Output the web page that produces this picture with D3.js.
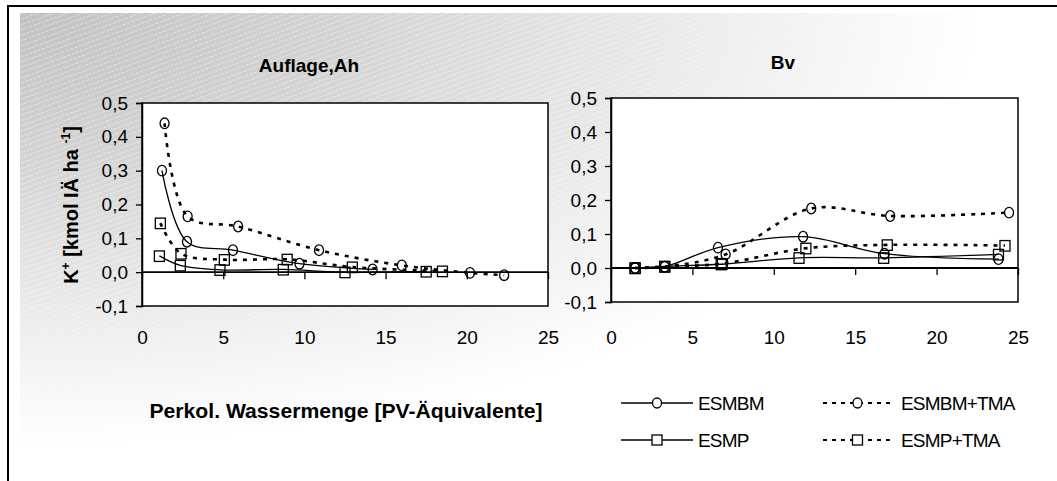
<!DOCTYPE html>
<html><head><meta charset="utf-8">
<script src="https://cdn.jsdelivr.net/npm/d3@7"></script>
<style>
html,body{margin:0;padding:0;background:#fff;}
svg{display:block;font-family:"Liberation Sans",Arial,sans-serif;}
</style></head>
<body>
<svg id="chart" width="1057" height="481"></svg>
<script>
// ---------- data ----------
const xTicks = [0, 5, 10, 15, 20, 25];
const yTicks = [-0.1, 0, 0.1, 0.2, 0.3, 0.4, 0.5];
const panelTitles = ["Auflage,Ah", "Bv"];
const seriesNames = ["ESMBM", "ESMBM+TMA", "ESMP", "ESMP+TMA"];

// Auflage,Ah panel
const ahESMBM_x    = [1.23, 2.77, 5.6, 9.7, 14.2];
const ahESMBM_y    = [0.30, 0.09, 0.065, 0.025, 0.008];
const ahESMBMTMA_x = [1.39, 2.81, 5.92, 10.9, 16.0, 20.2, 22.3];
const ahESMBMTMA_y = [0.44, 0.165, 0.135, 0.065, 0.02, -0.002, -0.009];
const ahESMP_x     = [1.07, 2.36, 4.8, 8.7, 12.5, 17.5];
const ahESMP_y     = [0.048, 0.02, 0.007, 0.008, 0.0, 0.002];
const ahESMPTMA_x  = [1.13, 2.4, 5.07, 8.94, 12.95, 18.5];
const ahESMPTMA_y  = [0.145, 0.055, 0.037, 0.038, 0.015, 0.003];

// Bv panel
const bvESMBM_x    = [1.48, 3.3, 6.57, 11.8, 16.8, 23.8];
const bvESMBM_y    = [0.0, 0.004, 0.06, 0.092, 0.042, 0.026];
const bvESMBMTMA_x = [1.48, 3.3, 7.04, 12.3, 17.15, 24.45];
const bvESMBMTMA_y = [0.0, 0.004, 0.04, 0.175, 0.153, 0.163];
const bvESMP_x     = [1.48, 3.3, 6.77, 11.55, 16.75, 23.8];
const bvESMP_y     = [0.0, 0.005, 0.011, 0.03, 0.03, 0.04];
const bvESMPTMA_x  = [1.48, 3.3, 6.84, 11.97, 16.97, 24.2];
const bvESMPTMA_y  = [0.0, 0.004, 0.013, 0.058, 0.068, 0.066];

const yLabelParts = ["K", "+", " [kmol IÄ ha ", "-1", "]"];
const xLabel = "Perkol. Wassermenge [PV-Äquivalente]";

// ---------- drawing ----------
const svg = d3.select("#chart");
const defs = svg.append("defs");

const grad = defs.append("radialGradient").attr("id","bg")
  .attr("cx","0").attr("cy","0").attr("r","1").attr("fx","0").attr("fy","0");
[[0,"#c2c2c2"],[0.3,"#d3d3d3"],[0.6,"#e8e8e8"],[0.92,"#ffffff"]].forEach(s=>
  grad.append("stop").attr("offset",s[0]).attr("stop-color",s[1]));

const pat = defs.append("pattern").attr("id","hatch")
  .attr("patternUnits","userSpaceOnUse").attr("width",40).attr("height",5)
  .attr("patternTransform","rotate(-20)");
pat.append("line").attr("x1",0).attr("y1",0.5).attr("x2",40).attr("y2",0.5)
  .attr("stroke","#fff").attr("stroke-width",0.8).attr("stroke-dasharray","3,1.5")
  .attr("opacity",0.55);

svg.append("rect").attr("x",0).attr("y",0).attr("width",1057).attr("height",481).attr("fill","#fff");
svg.append("rect").attr("x",20).attr("y",13).attr("width",1037).attr("height",468).attr("fill","url(#bg)");
svg.append("rect").attr("x",20).attr("y",13).attr("width",1037).attr("height",468).attr("fill","url(#hatch)");
// outer frame (top + left visible)
svg.append("rect").attr("x",8).attr("y",6).attr("width",1100).attr("height",520)
  .attr("fill","none").attr("stroke","#000").attr("stroke-width",2);

const fmt = d => (d < 0 ? "-" : "") + Math.abs(d).toFixed(1).replace(".", ",");

const lineGen = (x, y) => d3.line().x(d=>x(d[0])).y(d=>y(d[1]))
  .curve(d3.curveCatmullRom.alpha(0.5));

function marker(g, type, cx, cy) {
  if (type === "circle") {
    g.append("ellipse").attr("cx",cx).attr("cy",cy).attr("rx",4.5).attr("ry",5.3)
      .attr("fill","none").attr("stroke","#000").attr("stroke-width",1.3);
  } else {
    g.append("rect").attr("x",cx-5).attr("y",cy-5).attr("width",10).attr("height",10.5)
      .attr("fill","none").attr("stroke","#000").attr("stroke-width",1.3);
  }
}

function panel(cfg) {
  const x = d3.scaleLinear().domain([0,25]).range([cfg.x0, cfg.x1]);
  const y = d3.scaleLinear().domain([-0.1,0.5]).range([cfg.y1, cfg.y0]);
  const g = svg.append("g");
  g.append("rect").attr("x",cfg.x0).attr("y",cfg.y0)
    .attr("width",cfg.x1-cfg.x0).attr("height",cfg.y1-cfg.y0)
    .attr("fill","#fff").attr("stroke","#000").attr("stroke-width",1.5);

  // y axis
  const ya = g.append("g").attr("transform",`translate(${cfg.x0},0)`)
    .call(d3.axisLeft(y).tickValues(yTicks).tickFormat(fmt).tickSize(6).tickPadding(8));
  ya.select(".domain").attr("stroke","#000").attr("stroke-width",1.5);
  ya.selectAll(".tick line").attr("stroke","#000").attr("stroke-width",1.3);
  ya.selectAll("text").attr("font-size",19).attr("fill","#000")
    .attr("font-family","Liberation Sans, Arial, sans-serif");

  // x ticks at zero line
  const xt = g.append("g").attr("transform",`translate(0,${y(0)})`)
    .call(d3.axisBottom(x).tickValues(xTicks).tickFormat("").tickSize(7));
  xt.select(".domain").remove();
  xt.selectAll(".tick line").attr("stroke","#000").attr("stroke-width",1.3);
  // x labels low
  const xl = g.append("g").attr("transform",`translate(0,${cfg.y1})`)
    .call(d3.axisBottom(x).tickValues(xTicks).tickSize(0).tickPadding(cfg.labPad));
  xl.select(".domain").remove();
  xl.selectAll("text").attr("font-size",19).attr("fill","#000")
    .attr("font-family","Liberation Sans, Arial, sans-serif");

  // zero line
  g.append("line").attr("x1",x(0)).attr("x2",x(25)).attr("y1",y(0)).attr("y2",y(0))
    .attr("stroke","#000").attr("stroke-width",1.8);

  // series
  cfg.series.forEach(s => {
    const pts = s.xs.map((v,i)=>[v, s.ys[i]]);
    g.append("path").datum(pts).attr("d", lineGen(x,y))
      .attr("fill","none").attr("stroke","#000")
      .attr("stroke-width", s.dashed ? 2.6 : 1.3)
      .attr("stroke-dasharray", s.dashed ? "4,6" : null);
  });
  cfg.series.forEach(s => {
    s.xs.forEach((v,i)=>marker(g, s.marker, x(v), y(s.ys[i])));
  });

  // title
  g.append("text").attr("x",cfg.tx).attr("y",cfg.ty).attr("text-anchor","middle")
    .attr("font-size",19).attr("font-weight","bold").text(cfg.title);
}

panel({x0:142, x1:548, y0:103, y1:306, labPad:25, tx:309, ty:72, title:panelTitles[0],
  series:[
    {xs:ahESMBM_x, ys:ahESMBM_y, dashed:false, marker:"circle"},
    {xs:ahESMBMTMA_x, ys:ahESMBMTMA_y, dashed:true, marker:"circle"},
    {xs:ahESMP_x, ys:ahESMP_y, dashed:false, marker:"square"},
    {xs:ahESMPTMA_x, ys:ahESMPTMA_y, dashed:true, marker:"square"}
  ]});
panel({x0:611, x1:1018, y0:98, y1:302, labPad:29, tx:783, ty:69, title:panelTitles[1],
  series:[
    {xs:bvESMBM_x, ys:bvESMBM_y, dashed:false, marker:"circle"},
    {xs:bvESMBMTMA_x, ys:bvESMBMTMA_y, dashed:true, marker:"circle"},
    {xs:bvESMP_x, ys:bvESMP_y, dashed:false, marker:"square"},
    {xs:bvESMPTMA_x, ys:bvESMPTMA_y, dashed:true, marker:"square"}
  ]});

// y axis label
const yl = svg.append("text").attr("transform","translate(78,205) rotate(-90)")
  .attr("text-anchor","middle").attr("font-size",20).attr("font-weight","bold");
yl.append("tspan").text(yLabelParts[0]);
yl.append("tspan").attr("font-size",12).attr("dy",-8).text(yLabelParts[1]);
yl.append("tspan").attr("dy",8).text(yLabelParts[2]);
yl.append("tspan").attr("font-size",12).attr("dy",-8).text(yLabelParts[3]);
yl.append("tspan").attr("dy",8).text(yLabelParts[4]);

// x axis label
svg.append("text").attr("x",346).attr("y",418).attr("text-anchor","middle")
  .attr("font-size",20).attr("font-weight","bold")
  .attr("textLength",393).attr("lengthAdjust","spacingAndGlyphs").text(xLabel);

// legend
const lg = svg.append("g");
lg.append("rect").attr("x",613).attr("y",383).attr("width",404).attr("height",76).attr("fill","#fff");
const legendItems = [
  {name:seriesNames[0], dashed:false, marker:"circle", x1:621, x2:693, tx:698, y:403},
  {name:seriesNames[1], dashed:true,  marker:"circle", x1:823, x2:892, tx:901, y:403},
  {name:seriesNames[2], dashed:false, marker:"square", x1:621, x2:693, tx:698, y:440},
  {name:seriesNames[3], dashed:true,  marker:"square", x1:823, x2:892, tx:901, y:440}
];
legendItems.forEach(it => {
  lg.append("line").attr("x1",it.x1).attr("x2",it.x2).attr("y1",it.y).attr("y2",it.y)
    .attr("stroke","#000").attr("stroke-width", it.dashed ? 2 : 1.3)
    .attr("stroke-dasharray", it.dashed ? "4,5" : null);
  const cx = (it.x1+it.x2)/2;
  if (it.marker === "circle") {
    lg.append("ellipse").attr("cx",cx).attr("cy",it.y).attr("rx",4.5).attr("ry",5)
      .attr("fill","#fff").attr("stroke","#000").attr("stroke-width",1.3);
  } else {
    lg.append("rect").attr("x",cx-5).attr("y",it.y-5).attr("width",10).attr("height",10)
      .attr("fill","#fff").attr("stroke","#000").attr("stroke-width",1.3);
  }
  lg.append("text").attr("x",it.tx).attr("y",it.y+7).attr("font-size",19)
    .attr("letter-spacing",-0.8).text(it.name);
});
</script>
</body></html>
